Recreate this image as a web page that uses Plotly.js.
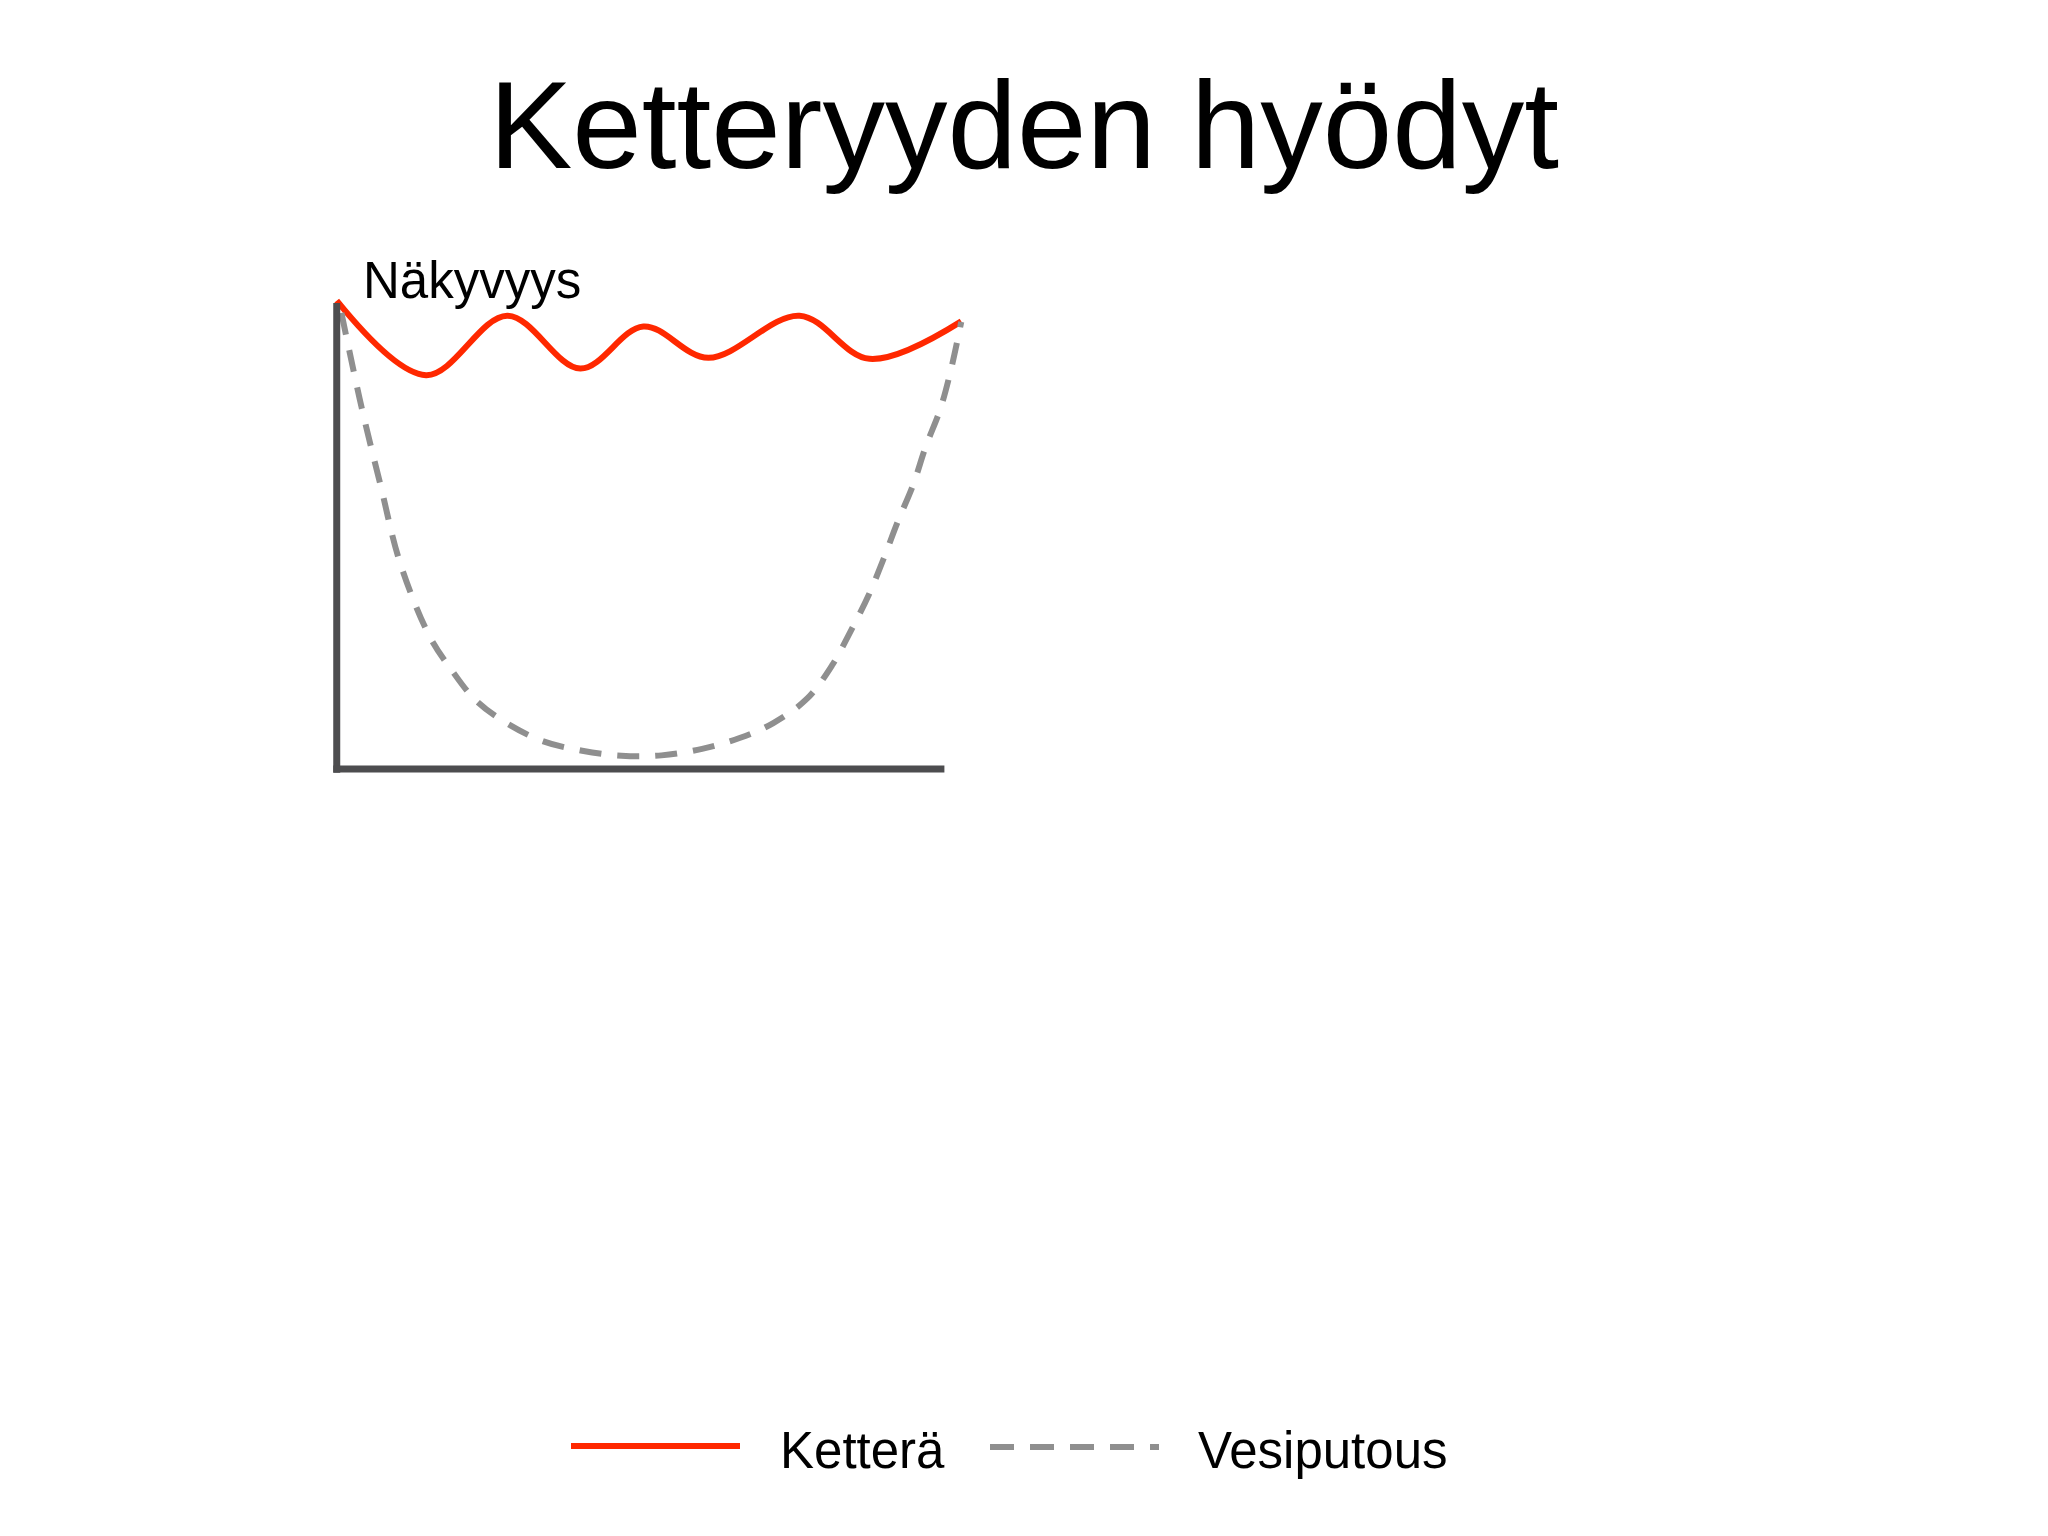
<!DOCTYPE html>
<html>
<head>
<meta charset="utf-8">
<script src="https://cdn.plot.ly/plotly-3.0.1.min.js"></script>
<style>
html, body { margin: 0; padding: 0; background: #ffffff; }
#chart { width: 2048px; height: 1536px; }
</style>
</head>
<body>
<div id="chart"></div>
<script>
// ---- data ----
const titleText = "Ketteryyden hyödyt";
const yAxisLabel = "Näkyvyys";
const seriesNames = ["Ketterä", "Vesiputous"];

// Ketterä (agile) visibility curve
const agileX = [0, 14.3, 27.3, 39.0, 49.1, 59.5, 74.1, 85.3, 100];
const agileY = [100, 84.1, 96.8, 85.5, 94.5, 87.8, 96.8, 87.6, 95.6];

// Vesiputous (waterfall) visibility curve
const waterfallX = [0.75, 4.0, 7.0, 10.1, 14.8, 18.3, 22.3, 27.3, 33.1, 39.3, 45.6, 52.0,
                    58.5, 64.5, 69.9, 75.3, 79.3, 82.4, 85.2, 87.6, 89.8, 92.3, 94.3, 96.6, 98.3, 100];
const waterfallY = [97.4, 77.1, 60.7, 44.2, 28.5, 21.3, 14.6, 9.7, 5.9, 3.9, 2.8, 2.9,
                    4.3, 6.6, 9.8, 15.0, 22.1, 29.7, 37.2, 45.0, 52.7, 60.7, 68.8, 76.7, 85.0, 95.5];

// ---- styling / layout ----
const FONT = "'Liberation Sans', Arial, Helvetica, sans-serif";
const RED = "#ff2800";
const GREY = "#8f8f8f";
const AXIS = "#4d4d4f";

const M = { l: 318, r: 1068, t: 282, b: 753 };
const W = 2048 - M.l - M.r;
const H = 1536 - M.t - M.b;
const pxX = px => (px - M.l) / W;
const pxY = py => (M.t + H - py) / H;

const traces = [
  {
    type: "scatter", mode: "lines", name: seriesNames[0],
    x: agileX, y: agileY,
    line: { color: RED, width: 6, shape: "spline", smoothing: 1 },
    hoverinfo: "skip"
  },
  {
    type: "scatter", mode: "lines", name: seriesNames[1],
    x: waterfallX, y: waterfallY,
    line: { color: GREY, width: 6, dash: "22px,16px", shape: "spline", smoothing: 1 },
    hoverinfo: "skip"
  }
];

const layout = {
  width: 2048, height: 1536,
  margin: { l: M.l, r: M.r, t: M.t, b: M.b, pad: 0 },
  paper_bgcolor: "#ffffff", plot_bgcolor: "#ffffff",
  showlegend: false,
  font: { family: FONT, color: "#000000" },
  title: {
    text: titleText,
    font: { family: FONT, size: 125, color: "#000000" },
    x: 0.5, xref: "container", xanchor: "center",
    y: 1 - 80 / 1536, yref: "container", yanchor: "top"
  },
  xaxis: { range: [-3, 103], visible: false, fixedrange: true },
  yaxis: { range: [-3, 104], visible: false, fixedrange: true },
  shapes: [
    // y axis line
    { type: "line", xref: "x", yref: "y", x0: 0, x1: 0, y0: -0.8, y1: 99.5,
      line: { color: AXIS, width: 7 } },
    // x axis line
    { type: "line", xref: "x", yref: "y", x0: -0.55, x1: 97.3, y0: 0, y1: 0,
      line: { color: AXIS, width: 7 } },
    // legend swatches
    { type: "line", xref: "paper", yref: "paper", x0: pxX(571), x1: pxX(740),
      y0: pxY(1446), y1: pxY(1446), line: { color: RED, width: 6 } },
    { type: "line", xref: "paper", yref: "paper", x0: pxX(990), x1: pxX(1159),
      y0: pxY(1447), y1: pxY(1447), line: { color: GREY, width: 6, dash: "24px,16px" } }
  ],
  annotations: [
    { text: yAxisLabel, xref: "paper", yref: "paper", x: pxX(361), y: pxY(280.7),
      xanchor: "left", yanchor: "middle", showarrow: false,
      font: { family: FONT, size: 51, color: "#000000" } },
    { text: seriesNames[0], xref: "paper", yref: "paper", x: pxX(778), y: pxY(1450.7),
      xanchor: "left", yanchor: "middle", showarrow: false,
      font: { family: FONT, size: 51, color: "#000000" } },
    { text: seriesNames[1], xref: "paper", yref: "paper", x: pxX(1196), y: pxY(1450.7),
      xanchor: "left", yanchor: "middle", showarrow: false,
      font: { family: FONT, size: 51, color: "#000000" } }
  ]
};

Plotly.newPlot("chart", traces, layout, { displayModeBar: false, staticPlot: true });
</script>
</body>
</html>
